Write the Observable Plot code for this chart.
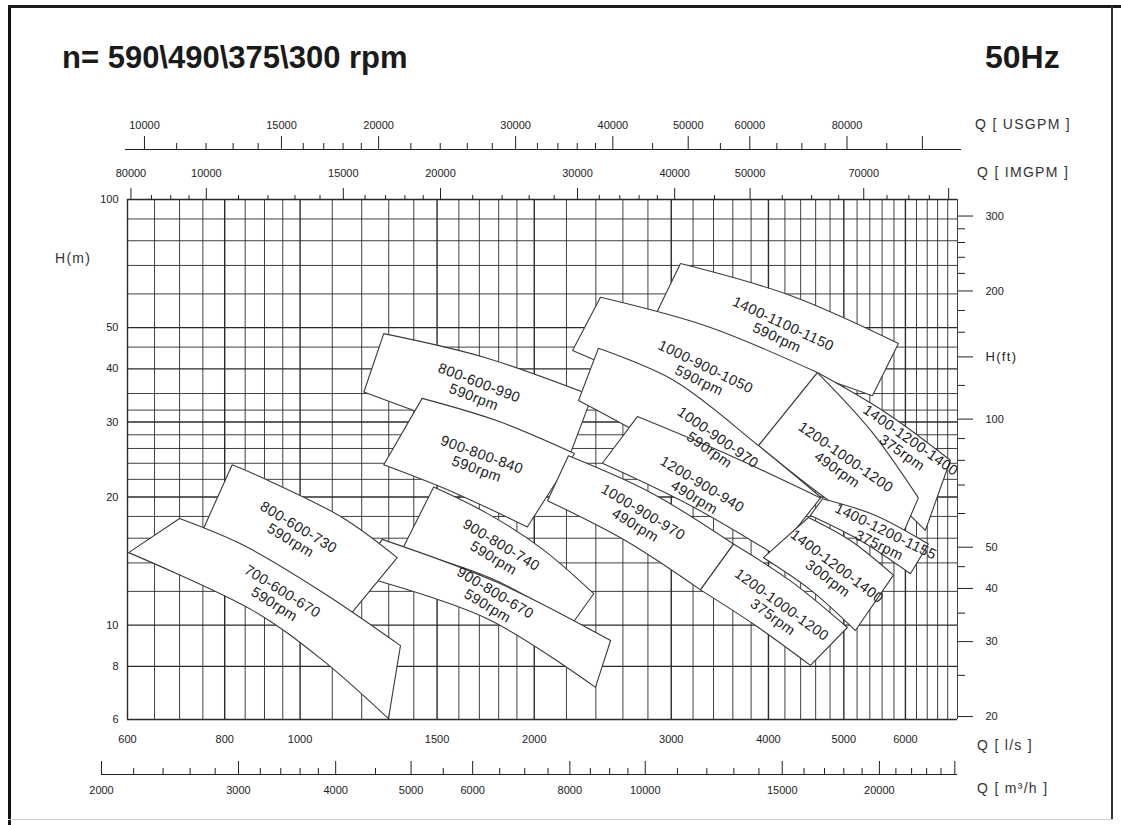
<!DOCTYPE html>
<html>
<head>
<meta charset="utf-8">
<script src="https://cdn.jsdelivr.net/npm/d3@7"></script>
<script src="https://cdn.jsdelivr.net/npm/@observablehq/plot@0.6"></script>
<style>
  html, body { margin: 0; padding: 0; background: #fff; }
  #page { position: relative; width: 1121px; height: 825px; overflow: hidden; font-family: "Liberation Sans", Arial, sans-serif; color: #1a1a1a; }
  .abs { position: absolute; }
  .fl { left: 8px; top: 5px; width: 3px; height: 820px; background: #111; }
  .ft { left: 8px; top: 5px; width: 1113px; height: 3px; background: #1a1a1a; }
  .fr { left: 1111px; top: 5px; width: 2px; height: 815px; background: #333; }
  .fb { left: 8px; top: 819px; width: 1105px; height: 1px; background: #d0d0d0; }
  .title { font-weight: bold; font-size: 31px; line-height: 1; top: 42px; white-space: pre; }
  .unit { font-size: 14px; letter-spacing: 1.3px; line-height: 14px; color: #333; white-space: pre; }
</style>
</head>
<body>
<div id="page">
  <div class="abs fl"></div><div class="abs ft"></div><div class="abs fr"></div><div class="abs fb"></div>
  <div class="abs title" style="left:62px">n= 590\490\375\300 rpm</div>
  <div class="abs title" style="left:985px;font-size:32px;top:41px">50Hz</div>
  <div class="abs unit" style="left:975px;top:117px">Q [ USGPM ]</div>
  <div class="abs unit" style="left:977px;top:165px">Q [ IMGPM ]</div>
  <div class="abs unit" style="left:55px;top:251px">H(m)</div>
  <div class="abs unit" style="left:977px;top:738px">Q [ l/s ]</div>
  <div class="abs unit" style="left:977px;top:781px">Q [ m³/h ]</div>
</div>
<script>
// ---------- axes & grid values ----------
const qTicks = [600, 800, 1000, 1500, 2000, 3000, 4000, 5000, 6000];          // l/s
const hTicks = [100, 50, 40, 30, 20, 10, 8, 6];                                // m
const vGrid = [600,650,700,750,800,850,900,950,1000,1100,1200,1300,1400,1500,1600,1700,1800,1900,2000,
  2200,2400,2600,2800,3000,3200,3400,3600,3800,4000,4200,4400,4600,4800,5000,5200,5400,5600,5800,6000,
  6200,6400,6600,6800,7000];
const hGrid = [100,90,80,70,60,50,45,40,35,32,30,28,26,24,22,20,18,16,14,12,10,8,6];

const usgpmMajor = [10000,15000,20000,30000,40000,50000,60000,80000];
const usgpmExtra = [100000];
const usgpmMinor = [11000,12000,13000,14000,16000,17000,18000,19000,22000,24000,26000,28000,
  32000,34000,36000,38000,45000,55000,65000,70000,75000,90000];
const usgpmLine = [9450, 112300];

const imgpmMajor = [8000,10000,15000,20000,30000,40000,50000,70000];
const imgpmLabels = ["80000","10000","15000","20000","30000","40000","50000","70000"];
const imgpmExtra = [90000];
const imgpmMinor = [8500,9000,9500,11000,12000,13000,14000,16000,17000,18000,19000,22000,24000,26000,28000,
  32000,34000,36000,38000,45000,55000,60000,65000,75000,80000,85000];

const m3hMajor = [2000,3000,4000,5000,6000,8000,10000,15000,20000];
const m3hExtra = [25000];
const m3hMinor = [2200,2400,2600,2800,3200,3400,3600,3800,4500,5500,6500,7000,7500,8500,9000,9500,
  11000,12000,13000,14000,16000,17000,18000,19000,21000,22000,23000,24000];
const m3hLine = [2000, 25200];

const ftMajor = [300,200,140,100,50,40,30,20];
const ftLabels = ["300","200","H(ft)","100","50","40","30","20"];
const ftMinor = [280,260,240,220,180,160,120,90,80,70,60,45,35,25];

const USG = 15.8503, IMG = 13.1982, M3H = 3.6, FT = 0.3048;

// ---------- pump tiles (Q l/s, H m), listed bottom-most first ----------
const tileLabels = [
  "800-600-990\n590rpm", "900-800-740\n590rpm", "900-800-840\n590rpm", "900-800-670\n590rpm",
  "800-600-730\n590rpm", "700-600-670\n590rpm", "1400-1100-1150\n590rpm", "1000-900-1050\n590rpm",
  "1400-1200-1400\n375rpm", "1200-1000-1200\n490rpm", "1000-900-970\n590rpm", "1200-900-940\n490rpm",
  "1000-900-970\n490rpm", "1400-1200-1155\n375rpm", "1400-1200-1400\n300rpm", "1200-1000-1200\n375rpm"
];
const tileTop = [
  [[1281,48.4],[1723,42.6],[2374,34.6]],
  [[1485,21.1],[1740,18.3],[2047,15.1],[2385,11.85]],
  [[1435,34.1],[1792,30.2],[2253,25.3]],
  [[1275,15.9],[1792,12.6],[2507,9.2]],
  [[818,23.8],[889,22.3],[1133,17.9],[1333,14.4]],
  [[700,17.8],[846,15.4],[1072,11.9],[1346,8.95]],
  [[3083,70.7],[4269,59.5],[5877,45.9]],
  [[2433,58.9],[3340,50.3],[4624,39.2]],
  [[4624,39.2],[5656,31.6],[6853,24.4]],
  [[4624,39.2],[5410,28.7],[6234,19.9]],
  [[2418,44.7],[3020,37.6],[3884,26.4],[4666,20.0]],
  [[2714,30.9],[3575,25.0],[4666,19.9]],
  [[2213,25.0],[2821,20.5],[3607,15.5]],
  [[4694,19.8],[5491,18.1],[6421,15.5]],
  [[4503,17.9],[5098,15.8],[5791,13.1]],
  [[3607,15.5],[4269,12.7],[5053,9.87]]
];
const tileBottom = [
  [[1208,35.3],[1656,28.7],[2213,24.6]],
  [[1354,15.1],[1757,12.9],[2240,10.1]],
  [[1281,23.8],[1576,20.5],[1959,17.0]],
  [[1189,13.1],[1740,10.35],[2397,7.14]],
  [[744,16.2],[932,13.3],[1151,10.4]],
  [[602,14.8],[871,10.8],[1062,8.35],[1299,6.03]],
  [[2821,50.6],[4024,41.8],[5442,34.6]],
  [[2240,44.2],[2906,35.6],[3884,26.4]],
  [[4951,27.1],[5656,20.7],[6366,16.7]],
  [[3884,26.4],[4806,19.5],[5877,15.5]],
  [[2280,33.7],[2900,26.5],[4269,17.1]],
  [[2447,24.0],[3175,19.1],[4084,14.6]],
  [[2080,19.6],[2619,15.8],[3271,12.1]],
  [[4530,18.1],[5252,15.8],[6089,13.2]],
  [[3942,14.4],[4530,12.1],[5174,9.71]],
  [[3271,12.1],[3850,9.98],[4530,8.04]]
];
const labelQ = [1686,1794,1700,1762,984,938,4140,3290,6018,4965,3402,3251,2730,5606,4835,4108];
const labelH = [35.7,14.9,24.2,11.5,16.4,11.6,49.2,39.0,26.3,24.0,26.7,20.7,17.8,16.0,13.3,10.8];
const labelAngle = [21,31,20,31,31,32,25,26,35,35,35,31,31,26,37,36];

// ---------- helpers ----------
function outline(top, bottom) {
  const pts = [];
  const two = p => { pts.push(p, p); };
  two(top[0]);
  for (let i = 1; i < top.length - 1; i++) pts.push(top[i]);
  two(top[top.length - 1]);
  two(bottom[bottom.length - 1]);
  for (let i = bottom.length - 2; i > 0; i--) pts.push(bottom[i]);
  two(bottom[0]);
  two(top[0]);
  return pts;
}
const FONT = '"Liberation Sans", Arial, sans-serif';
const W = 1121, ML = 127, MR = 164;
const page = document.getElementById("page");
function place(svg, top) {
  svg.style.position = "absolute";
  svg.style.left = "0px";
  svg.style.top = top + "px";
  page.appendChild(svg);
}
const ink = "#222";

// ---------- top USGPM axis ----------
const usgpmPlot = Plot.plot({
  width: W, height: 60, marginTop: 36, marginBottom: 11, marginLeft: ML, marginRight: MR,
  x: {type: "log", domain: [600 * USG, 7000 * USG], axis: null},
  y: {domain: [0, 1], axis: null},
  style: {background: "transparent", fontFamily: FONT, fontSize: "11px", color: ink},
  marks: [
    Plot.ruleY([0], {x1: usgpmLine[0], x2: usgpmLine[1], stroke: ink}),
    Plot.tickX(usgpmMajor.concat(usgpmExtra), {x: d => d, stroke: ink}),
    Plot.tickX(usgpmMinor, {x: d => d, insetTop: 7, stroke: ink}),
    Plot.axisX(usgpmMajor, {anchor: "top", tickSize: 0, tickPadding: 8, tickFormat: d => String(d), label: null})
  ]
});
place(usgpmPlot, 100);

// ---------- main chart ----------
const imgLabelMap = new Map(imgpmMajor.map((v, i) => [v / IMG, imgpmLabels[i]]));
const ftLabelMap = new Map(ftMajor.map((v, i) => [v * FT, ftLabels[i]]));
const tileMarks = tileLabels.map((lab, i) =>
  Plot.line(outline(tileTop[i], tileBottom[i]), {
    x: d => d[0], y: d => d[1], curve: "catmull-rom",
    fill: "white", stroke: "#3a3a3a", strokeWidth: 1.1
  })
);
const labelData = tileLabels.map((t, i) => ({t, q: labelQ[i], h: labelH[i], a: labelAngle[i]}));

const main = Plot.plot({
  width: W, height: 604, marginTop: 49, marginBottom: 35, marginLeft: ML, marginRight: MR,
  x: {type: "log", domain: [600, 7000], axis: null},
  y: {type: "log", domain: [6, 100], axis: null},
  style: {background: "transparent", fontFamily: FONT, fontSize: "11px", color: ink},
  marks: [
    Plot.ruleX(vGrid, {x: d => d, stroke: "#2b2b2b", strokeWidth: d => qTicks.includes(d) ? 1.4 : 0.9}),
    Plot.ruleY(hGrid, {y: d => d, stroke: "#2b2b2b", strokeWidth: d => hTicks.includes(d) ? 1.4 : 0.9}),
    Plot.axisX(qTicks, {anchor: "bottom", tickSize: 0, tickPadding: 16, tickFormat: d => String(d), label: null}),
    Plot.axisY(hTicks, {anchor: "left", tickSize: 0, tickPadding: 9, tickFormat: d => String(d), label: null}),
    Plot.axisX(imgpmMajor.map(v => v / IMG).concat(imgpmExtra.map(v => v / IMG)), {anchor: "top", tickSize: 12, tickPadding: 11,
      tickFormat: d => imgLabelMap.get(d) ?? "", label: null, stroke: ink}),
    Plot.axisX(imgpmMinor.map(v => v / IMG), {anchor: "top", tickSize: 5, tickFormat: () => "", label: null, stroke: ink}),
    Plot.axisY(ftMajor.map(v => v * FT), {anchor: "right", tickSize: 15, tickPadding: 13,
      tickFormat: d => ftLabelMap.get(d), label: null, stroke: ink}),
    Plot.axisY(ftMinor.map(v => v * FT), {anchor: "right", tickSize: 7, tickFormat: () => "", label: null, stroke: ink}),
    ...tileMarks,
    Plot.text(labelData, {x: "q", y: "h", text: "t", rotate: "a", fontSize: 14.5, lineHeight: 1.05,
      fill: "#222", textAnchor: "middle", lineAnchor: "middle"})
  ]
});
// small typographic touches: spaced tile labels, larger "H(ft)" caption
main.querySelectorAll('g[aria-label="text"]').forEach(g => g.setAttribute("letter-spacing", "0.4"));
main.querySelectorAll("text").forEach(t => {
  if (t.textContent === "H(ft)") { t.setAttribute("font-size", "13"); t.setAttribute("letter-spacing", "1.3"); }
});
place(main, 150);

// ---------- bottom m3/h axis ----------
const m3hPlot = Plot.plot({
  width: W, height: 70, marginTop: 21, marginBottom: 36, marginLeft: ML, marginRight: MR,
  x: {type: "log", domain: [600 * M3H, 7000 * M3H], axis: null},
  y: {domain: [0, 1], axis: null},
  style: {background: "transparent", fontFamily: FONT, fontSize: "11px", color: ink},
  marks: [
    Plot.ruleY([0], {x1: m3hLine[0], x2: m3hLine[1], stroke: ink}),
    Plot.tickX(m3hMajor.concat(m3hExtra), {x: d => d, stroke: ink}),
    Plot.tickX(m3hMinor, {x: d => d, insetTop: 7, stroke: ink}),
    Plot.axisX(m3hMajor, {anchor: "bottom", tickSize: 0, tickPadding: 12, tickFormat: d => String(d), label: null})
  ]
});
place(m3hPlot, 740);
</script>
</body>
</html>
